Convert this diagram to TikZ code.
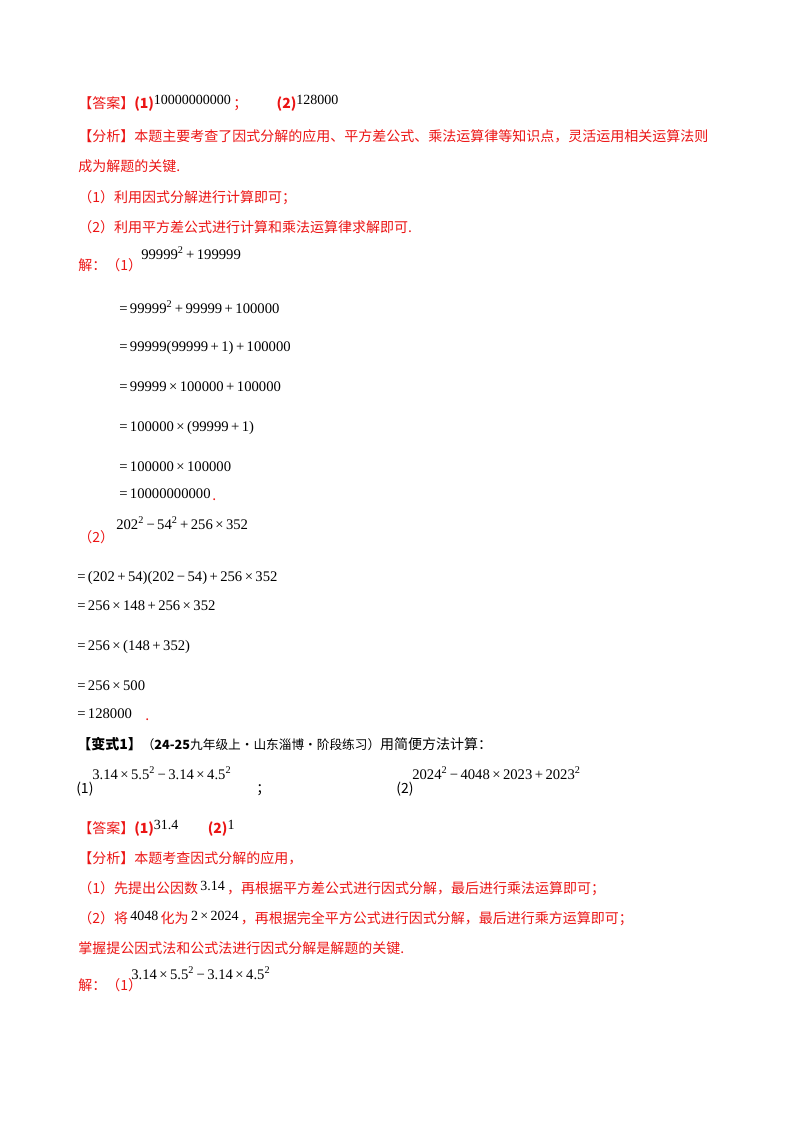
\documentclass[tikz,border=0pt]{standalone}
\usepackage{fontspec}
\setmainfont{Liberation Serif}
\newfontfamily\cjk{Noto Sans CJK SC}
\definecolor{ans}{RGB}{235,20,20}
\newcommand{\sqq}{\textsuperscript{2}}
\newcommand{\pl}{\,+\,}
\newcommand{\mi}{\,−\,}
\newcommand{\ti}{\,×\,}
\newcommand{\inl}[1]{\raisebox{3pt}{\rmfamily\color{black}#1}}
\newcommand{\inr}[1]{\,\raisebox{2pt}{\rmfamily\color{black}#1}\,}
\begin{document}
\begin{tikzpicture}[x=0.75pt,y=-0.75pt,
  tx/.style={anchor=base west,inner sep=0pt,font=\fontsize{10.5}{12}\selectfont\cjk},
  rt/.style={tx,text=ans},
  mt/.style={anchor=base west,inner sep=0pt,font=\fontsize{11}{12}\selectfont}]
\useasboundingbox (0,0) rectangle (800,1132);
\node[rt] (a1) at (78,108) {【答案】\textbf{(1)}\inl{\fontsize{10.5}{12}\selectfont 10000000000}\,；\hspace{22pt}\textbf{(2)}\inl{\fontsize{10.5}{12}\selectfont 128000}};
\node[rt] (f1) at (78,141) {【分析】本题主要考查了因式分解的应用、平方差公式、乘法运算律等知识点，灵活运用相关运算法则};
\node[rt] (f2) at (78,171) {成为解题的关键.};
\node[rt] (f3) at (78,202) {（1）利用因式分解进行计算即可；};
\node[rt] (f4) at (78,232) {（2）利用平方差公式进行计算和乘法运算律求解即可.};
\node[rt] (j1) at (78,270) {解：（1）};
\node[mt] (e0) at (141,259) {99999\sqq\pl 199999};
\node[mt] (e1) at (119,313) {=\,99999\sqq\pl 99999\pl 100000};
\node[mt] (e2) at (119,351) {=\,99999(99999\pl 1)\pl 100000};
\node[mt] (e3) at (119,391) {=\,99999\ti 100000\pl 100000};
\node[mt] (e4) at (119,431) {=\,100000\ti(99999\pl 1)};
\node[mt] (e5) at (119,471) {=\,100000\ti 100000};
\node[mt] (e6) at (119,498) {=\,10000000000};
\node[rt] (e6d) at (212,500) {.};
\node[rt] (j2) at (78,542) {（2）};
\node[mt] (g0) at (116,529) {202\sqq\mi 54\sqq\pl 256\ti 352};
\node[mt] (g1) at (77,581) {=\,(202\pl 54)(202\mi 54)\pl 256\ti 352};
\node[mt] (g2) at (77,610) {=\,256\ti 148\pl 256\ti 352};
\node[mt] (g3) at (77,650) {=\,256\ti(148\pl 352)};
\node[mt] (g4) at (77,690) {=\,256\ti 500};
\node[mt] (g5) at (77,718) {=\,128000};
\node[rt] (g5d) at (145,720) {.};
\node[tx] (v) at (77,749) {\textbf{【变式1】}\fontsize{9.5}{12}\selectfont（\textbf{24-25}九年级上·山东淄博·阶段练习）\fontsize{10.5}{12}\selectfont 用简便方法计算：};
\node[tx] (q1) at (76,793) {(1)};
\node[mt] (q1e) at (92,779) {3.14\ti 5.5\sqq\mi 3.14\ti 4.5\sqq};
\node[tx] (q1s) at (256,793) {；};
\node[tx] (q2) at (396,793) {(2)};
\node[mt] (q2e) at (412,779) {2024\sqq\mi 4048\ti 2023\pl 2023\sqq};
\node[rt] (b1) at (78,833) {【答案】\textbf{(1)}\inl{\fontsize{10.5}{12}\selectfont 31.4}\hspace{22pt}\textbf{(2)}\inl{\fontsize{10.5}{12}\selectfont 1}};
\node[rt] (h1) at (78,863) {【分析】本题考查因式分解的应用，};
\node[rt] (h2) at (78,893) {（1）先提出公因数\inr{3.14}，再根据平方差公式进行因式分解，最后进行乘法运算即可；};
\node[rt] (h3) at (78,923) {（2）将\inr{4048}化为\inr{2\ti 2024}，再根据完全平方公式进行因式分解，最后进行乘方运算即可；};
\node[rt] (h4) at (78,953) {掌握提公因式法和公式法进行因式分解是解题的关键.};
\node[rt] (j3) at (78,990) {解：（1）};
\node[mt] (k0) at (131,979) {3.14\ti 5.5\sqq\mi 3.14\ti 4.5\sqq};
\end{tikzpicture}
\end{document}
